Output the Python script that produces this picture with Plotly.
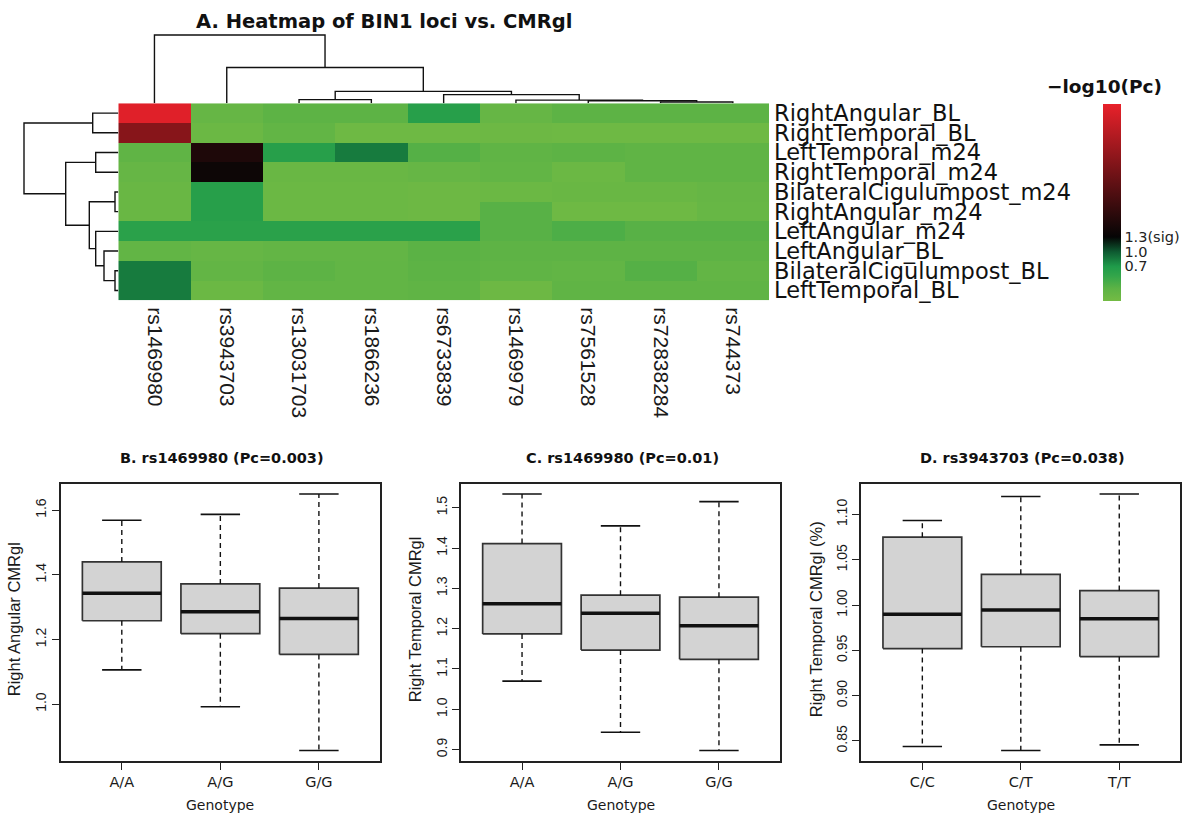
import plotly.graph_objects as go

W, H = 1197, 817

# ---------------- Heatmap data ----------------
snps = ["rs1469980", "rs3943703", "rs13031703", "rs1866236", "rs6733839",
        "rs1469979", "rs7561528", "rs72838284", "rs744373"]
regions = ["RightAngular_BL", "RightTemporal_BL", "LeftTemporal_m24", "RightTemporal_m24",
           "BilateralCigulumpost_m24", "RightAngular_m24", "LeftAngular_m24", "LeftAngular_BL",
           "BilateralCigulumpost_BL", "LeftTemporal_BL"]
neglog_pc = [
    [3.90, 0.15, 0.25, 0.25, 0.62, 0.15, 0.25, 0.25, 0.25],
    [2.85, 0.10, 0.20, 0.06, 0.06, 0.08, 0.06, 0.06, 0.06],
    [0.22, 1.60, 0.62, 0.85, 0.30, 0.22, 0.25, 0.22, 0.22],
    [0.15, 1.40, 0.12, 0.12, 0.15, 0.20, 0.10, 0.22, 0.22],
    [0.12, 0.62, 0.10, 0.10, 0.08, 0.10, 0.12, 0.12, 0.15],
    [0.12, 0.62, 0.10, 0.10, 0.08, 0.28, 0.06, 0.06, 0.14],
    [0.60, 0.60, 0.60, 0.60, 0.60, 0.28, 0.35, 0.28, 0.28],
    [0.20, 0.15, 0.18, 0.18, 0.26, 0.24, 0.24, 0.24, 0.24],
    [0.85, 0.18, 0.25, 0.20, 0.25, 0.22, 0.20, 0.30, 0.18],
    [0.85, 0.10, 0.20, 0.20, 0.22, 0.08, 0.22, 0.22, 0.22],
]
cbar_ticks = [0.7, 1.0, 1.3]
cbar_ticktext = ["0.7", "1.0", "1.3(sig)"]

# dendrogram merges: (left, right, height); ids >= n_leaves refer to earlier merges
col_merges = [(7, 8, 1.2), (6, 9, 2.5), (2, 3, 3.7), (5, 10, 3.2), (4, 12, 8.7),
              (11, 13, 12.0), (1, 14, 36.0), (0, 15, 68.7)]
row_merges = [(4, 5, 3.3), (8, 9, 3.3), (7, 11, 14.3), (6, 12, 22.6), (2, 3, 22.6),
              (0, 1, 25.6), (10, 13, 29.0), (14, 16, 52.6), (15, 17, 94.3)]

# ---------------- Box plot data ----------------
b_geno = ["A/A", "A/G", "G/G"]
b_low = [1.106, 0.992, 0.857]
b_q1 = [1.258, 1.218, 1.154]
b_med = [1.343, 1.286, 1.265]
b_q3 = [1.440, 1.372, 1.359]
b_high = [1.569, 1.587, 1.650]

c_geno = ["A/A", "A/G", "G/G"]
c_low = [1.070, 0.943, 0.898]
c_q1 = [1.187, 1.147, 1.124]
c_med = [1.262, 1.238, 1.207]
c_q3 = [1.411, 1.283, 1.278]
c_high = [1.534, 1.455, 1.515]

d_geno = ["C/C", "C/T", "T/T"]
d_low = [0.8438, 0.8395, 0.8456]
d_q1 = [0.952, 0.954, 0.943]
d_med = [0.990, 0.9946, 0.985]
d_q3 = [1.075, 1.034, 1.016]
d_high = [1.0934, 1.120, 1.1227]

b_ticks = [1.0, 1.2, 1.4, 1.6]
c_ticks = [0.9, 1.0, 1.1, 1.2, 1.3, 1.4, 1.5]
d_ticks = [0.85, 0.90, 0.95, 1.00, 1.05, 1.10]


def px_x(p):
    return p / W


def px_y(p):
    return 1 - p / H


def dendro(merges, n):
    pos = {i: float(i) for i in range(n)}
    hgt = {i: 0.0 for i in range(n)}
    xs, ys = [], []
    for k, (a, b, h) in enumerate(merges):
        xs += [pos[a], pos[a], pos[b], pos[b], None]
        ys += [hgt[a], h, h, hgt[b], None]
        pos[n + k] = (pos[a] + pos[b]) / 2
        hgt[n + k] = h
    return xs, ys


fig = go.Figure()

colorscale = [
    [0.0, "#74bb44"],
    [0.0625, "#5db345"],
    [0.125, "#34a64a"],
    [0.175, "#1f9b4a"],
    [0.25, "#0e5a31"],
    [0.325, "#050505"],
    [1.0, "#e8212a"],
]

HX0, HX1, HY0, HY1 = 118.3, 769.0, 101.0, 299.5

fig.add_trace(go.Heatmap(
    z=neglog_pc, x=list(range(len(snps))), y=list(range(len(regions))),
    colorscale=colorscale, zmin=0, zmax=4, xaxis="x", yaxis="y",
    hoverinfo="skip",
    colorbar=dict(x=px_x(1103.3), xanchor="left", y=px_y(300), yanchor="bottom",
                  len=(300 - 101.7) / H, lenmode="fraction", thickness=18,
                  thicknessmode="pixels", outlinewidth=0, tickvals=cbar_ticks,
                  ticktext=cbar_ticktext, ticks="", xpad=0, ypad=0,
                  tickfont=dict(family="DejaVu Sans", size=14.5, color="#222")),
))

cx, cy = dendro(col_merges, len(snps))
fig.add_trace(go.Scatter(x=cx, y=cy, mode="lines", xaxis="x3", yaxis="y3",
                         line=dict(color="#111", width=1.4), hoverinfo="skip",
                         showlegend=False))
rx, ry = dendro(row_merges, len(regions))
fig.add_trace(go.Scatter(x=ry, y=rx, mode="lines", xaxis="x2", yaxis="y2",
                         line=dict(color="#111", width=1.4), hoverinfo="skip",
                         showlegend=False))


def add_boxes(ax, ay, low, q1, med, q3, high):
    for i in range(len(med)):
        xc = i + 1
        fig.add_trace(go.Scatter(
            x=[xc - 0.4, xc + 0.4, xc + 0.4, xc - 0.4, xc - 0.4],
            y=[q1[i], q1[i], q3[i], q3[i], q1[i]], mode="lines", fill="toself",
            fillcolor="#d3d3d3", line=dict(color="#333", width=1.7),
            xaxis=ax, yaxis=ay, showlegend=False, hoverinfo="skip"))
        fig.add_trace(go.Scatter(
            x=[xc - 0.4, xc + 0.4], y=[med[i], med[i]], mode="lines",
            line=dict(color="#111", width=3.5), xaxis=ax, yaxis=ay,
            showlegend=False, hoverinfo="skip"))
        fig.add_trace(go.Scatter(
            x=[xc, xc, None, xc, xc], y=[q3[i], high[i], None, q1[i], low[i]],
            mode="lines", line=dict(color="#111", width=1.4, dash="5px,4px"),
            xaxis=ax, yaxis=ay, showlegend=False, hoverinfo="skip"))
        fig.add_trace(go.Scatter(
            x=[xc - 0.2, xc + 0.2, None, xc - 0.2, xc + 0.2],
            y=[high[i], high[i], None, low[i], low[i]], mode="lines",
            line=dict(color="#111", width=1.6), xaxis=ax, yaxis=ay,
            showlegend=False, hoverinfo="skip"))


add_boxes("x4", "y4", b_low, b_q1, b_med, b_q3, b_high)
add_boxes("x5", "y5", c_low, c_q1, c_med, c_q3, c_high)
add_boxes("x6", "y6", d_low, d_q1, d_med, d_q3, d_high)

hidden = dict(visible=False, showgrid=False, zeroline=False)


def r_range(lo, hi):
    span = hi - lo
    return [lo - 0.04 * span, hi + 0.04 * span]


box_top, box_bot = 484.3, 763.3
panels = [
    ("x4", "y4", 60.7, 380.0, b_geno, b_ticks, ".1f", min(b_low), max(b_high)),
    ("x5", "y5", 461.0, 780.0, c_geno, c_ticks, ".1f", min(c_low), max(c_high)),
    ("x6", "y6", 861.3, 1180.3, d_geno, d_ticks, ".2f", min(d_low), max(d_high)),
]

layout = dict(
    width=W, height=H, margin=dict(l=0, r=0, t=0, b=0),
    paper_bgcolor="white", plot_bgcolor="white", showlegend=False,
    xaxis=dict(domain=[px_x(HX0), px_x(HX1)], range=[-0.5, len(snps) - 0.5], anchor="y",
               tickvals=list(range(len(snps))), ticktext=snps, tickangle=90,
               ticks="", showgrid=False, zeroline=False, showline=False,
               ticklabelstandoff=6,
               tickfont=dict(family="Liberation Sans", size=21, color="#1a1a1a")),
    yaxis=dict(domain=[px_y(HY1), px_y(HY0)], range=[len(regions) - 0.5, -0.5], anchor="x",
               side="right", tickvals=list(range(len(regions))), ticktext=regions,
               ticks="", showgrid=False, zeroline=False, showline=False,
               ticklabelstandoff=4,
               tickfont=dict(family="DejaVu Sans", size=22.5, color="#111")),
    xaxis2=dict(domain=[0, px_x(HX0)], range=[HX0, 0], anchor="y2", **hidden),
    yaxis2=dict(domain=[px_y(HY1), px_y(HY0)], range=[len(regions) - 0.5, -0.5],
                anchor="x2", **hidden),
    xaxis3=dict(domain=[px_x(HX0), px_x(HX1)], range=[-0.5, len(snps) - 0.5],
                anchor="y3", **hidden),
    yaxis3=dict(domain=[px_y(HY0), px_y(25)], range=[0, HY0 - 25], anchor="x3", **hidden),
)

for ax, ay, x0, x1, geno, ticks, fmt, lo, hi in panels:
    layout["xaxis" + ax[1:]] = dict(
        domain=[px_x(x0), px_x(x1)], range=[0.38, 3.62], anchor=ay,
        tickvals=[1, 2, 3], ticktext=geno, ticks="outside", ticklen=7, tickwidth=1.3,
        tickcolor="#222", showline=True, linecolor="#222", linewidth=1.7, mirror=True,
        showgrid=False, zeroline=False,
        tickfont=dict(family="DejaVu Sans", size=14.5, color="#1a1a1a"))
    layout["yaxis" + ay[1:]] = dict(
        domain=[px_y(box_bot), px_y(box_top)], range=r_range(lo, hi), anchor=ax,
        tickvals=ticks, tickformat=fmt, ticks="outside", ticklen=7, tickwidth=1.3,
        tickcolor="#222", tickangle=-90, showline=True, linecolor="#222", linewidth=1.7,
        mirror=True, showgrid=False, zeroline=False,
        tickfont=dict(family="Liberation Sans", size=14, color="#1a1a1a"))

fig.update_layout(**layout)

ann = []
ann.append(dict(text="<b>A. Heatmap of BIN1 loci vs. CMRgl</b>", x=px_x(384), y=px_y(19),
                font=dict(family="DejaVu Sans", size=19.5, color="#111")))
ann.append(dict(text="<b>\u2212log10(Pc)</b>", x=px_x(1104), y=px_y(84),
                font=dict(family="DejaVu Sans", size=18.5, color="#111")))
titles = ["B. rs1469980 (Pc=0.003)", "C. rs1469980 (Pc=0.01)", "D. rs3943703 (Pc=0.038)"]
ytitles = ["Right Angular CMRgl", "Right Temporal CMRgl", "Right Temporal CMRgl (%)"]
ytitle_x = [14, 415, 816]
for (ax, ay, x0, x1, *_), t, yt, ytx in zip(panels, titles, ytitles, ytitle_x):
    xc = (x0 + x1) / 2
    ann.append(dict(text="<b>" + t + "</b>", x=px_x(xc + 2), y=px_y(458.5),
                    font=dict(family="DejaVu Sans", size=14.5, color="#111")))
    ann.append(dict(text="Genotype", x=px_x(xc), y=px_y(808),
                    font=dict(family="DejaVu Sans", size=14, color="#1a1a1a")))
    ann.append(dict(text=yt, x=px_x(ytx), y=px_y((box_top + box_bot) / 2 - 3), textangle=-90,
                    font=dict(family="Liberation Sans", size=16.5, color="#1a1a1a")))

for a in ann:
    a.update(xref="paper", yref="paper", showarrow=False, xanchor="center", yanchor="middle")
fig.update_layout(annotations=ann)

fig.write_html("out.html", config={"displayModeBar": False},
               post_script="document.body.style.margin='0';")
